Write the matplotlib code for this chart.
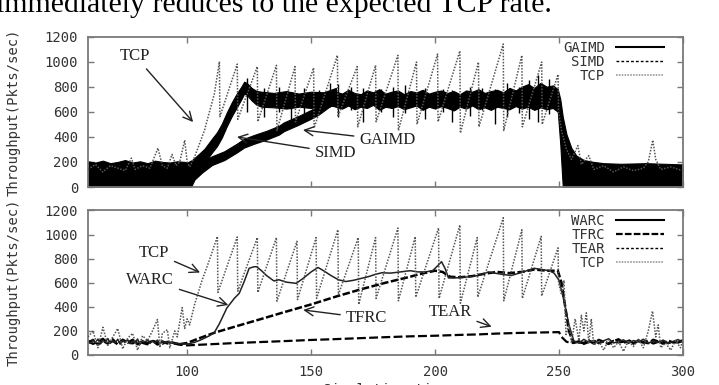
import matplotlib
matplotlib.use("Agg")
import matplotlib.pyplot as plt
from matplotlib.lines import Line2D

plt.rcParams['font.family'] = ['DejaVu Sans Mono']

# ---------------- data: top panel ----------------
band_t = [160 + 2.5 * i for i in range(36)]
gaimd_t = ([60, 63, 66, 69, 72, 75, 78, 81, 84, 87, 90, 93, 96, 99, 101.5,
            103, 106, 110, 115, 120, 123, 127, 132, 137, 139, 145, 150, 153, 158]
           + band_t
           + [249.5, 250.5, 251.5, 253, 255, 257, 260, 264, 268, 275, 285, 300])
gaimd_hi = ([205, 195, 210, 190, 200, 215, 195, 205, 190, 210, 200, 195, 205, 200, 190,
             185, 205, 245, 285, 345, 385, 415, 448, 488, 515, 567, 615, 647, 725]
            + [760, 745, 775, 750, 740, 770, 755, 780, 745, 760, 770, 740, 765, 755, 775,
               745, 760, 770, 750, 765, 740, 770, 760, 780, 750, 765, 775, 755, 790, 770,
               800, 820, 790, 830, 800, 810]
            + [780, 700, 560, 420, 310, 250, 215, 200, 190, 185, 190, 180])
gaimd_lo = ([0, 0, 0, 0, 0, 0, 0, 0, 0, 0, 0, 0, 0, 0, 0,
             60, 115, 175, 215, 275, 315, 345, 378, 418, 445, 497, 545, 577, 650]
            + [640, 625, 650, 620, 640, 630, 655, 615, 640, 630, 645, 620, 635, 650, 615,
               640, 625, 645, 630, 610, 640, 625, 650, 620, 635, 615, 640, 630, 620, 645,
               625, 640, 615, 635, 620, 630]
            + [600, 340, 0, 0, 0, 0, 0, 0, 0, 0, 0, 0])

simd_t = [100, 102, 104, 107, 110, 112, 114, 116, 118, 120, 122, 123, 124, 126, 128,
          130, 135, 140, 145, 150, 155, 160]
simd_hi = [195, 215, 250, 305, 385, 435, 505, 595, 675, 745, 805, 840, 830, 790, 765,
           760, 750, 765, 745, 760, 755, 790]
simd_lo = [105, 125, 150, 195, 275, 325, 395, 485, 565, 635, 705, 745, 735, 690, 655,
           640, 635, 625, 640, 630, 645, 650]

spike_t = [124, 131, 137, 142, 147, 153, 157.5, 161, 166, 171, 178, 183, 188, 196,
           203, 207, 214, 219, 224, 229, 234, 238, 241.5, 246]
spike_lo = [600, 560, 600, 530, 580, 600, 640, 560, 610, 520, 600, 560, 590, 540,
            600, 520, 570, 610, 500, 560, 590, 540, 520, 580]
spike_hi = [870, 790, 800, 760, 790, 770, 830, 820, 800, 790, 780, 800, 810, 790,
            780, 770, 800, 790, 780, 830, 800, 850, 890, 860]

tcp1_t = [60, 63, 66, 69, 72, 75, 77.5, 79, 82, 85, 88.2, 90, 92, 93.9, 95.5, 97, 99,
          100, 101, 103, 107, 111, 113, 113.2, 120.2, 120.4, 128.3, 128.5, 136, 136.2,
          143.5, 143.7, 151, 151.2, 160.6, 160.8, 168.6, 168.8, 176, 176.2, 185, 185.2,
          192.5, 192.7, 201, 201.2, 210, 210.2, 217.5, 217.7, 227.5, 227.7, 235, 235.2,
          243, 243.2, 249.6, 249.8, 251, 253, 255, 257.6, 259, 262, 264, 268, 272, 276,
          280, 284, 286, 287.8, 289, 291, 295, 300]
tcp1_v = [140, 180, 120, 170, 150, 130, 230, 140, 170, 150, 310, 170, 150, 260, 170, 200, 373,
          200, 160, 240, 453, 746, 1000, 560, 980, 540, 960, 520, 970, 450,
          960, 520, 950, 470, 1050, 560, 960, 480, 970, 520, 1050, 450,
          996, 500, 1060, 520, 1085, 430, 996, 480, 1140, 450, 1050, 480,
          996, 500, 898, 600, 450, 300, 220, 330, 180, 250, 140, 170, 120, 160,
          130, 150, 200, 374, 220, 140, 160, 130]

# ---------------- data: bottom panel ----------------
tcp2_t = [60, 62, 64, 66, 68, 70, 72, 74, 76, 78, 80, 82, 84, 86, 88, 89, 90, 92, 93, 95,
          96, 98, 99, 100, 101, 103, 106, 109, 112.2, 112.4, 120.2, 120.4, 128.3, 128.5,
          136, 136.2, 144.3, 144.5, 152, 152.2, 160.8, 161, 169, 169.2, 176, 176.2, 185,
          185.2, 192, 192.2, 201.4, 201.6, 210, 210.2, 217, 217.2, 227.5, 227.7, 235,
          235.2, 242.8, 243, 249.6, 249.8, 251, 252, 252.8, 254, 255, 256.5, 258, 259,
          260, 261, 262, 263, 264, 266, 268, 270, 272, 274, 276, 278, 280, 282, 284,
          286, 287.7, 289, 290, 291, 293, 295, 297, 299, 300]
tcp2_v = [150, 200, 60, 230, 80, 150, 220, 50, 140, 180, 40, 160, 120, 200, 295, 60, 180, 210, 60, 200,
          150, 394, 220, 300, 250, 420, 620, 790, 985, 520, 980, 530, 975, 520,
          975, 447, 944, 460, 975, 470, 1040, 500, 975, 420, 975, 470, 1055,
          450, 983, 480, 1055, 470, 1080, 430, 975, 480, 1140, 450, 1040,
          470, 985, 490, 890, 600, 500, 620, 170, 250, 100, 300, 120, 330,
          200, 350, 100, 300, 80, 120, 40, 130, 60, 110, 30, 120, 70, 130, 60,
          200, 365, 150, 250, 60, 100, 40, 120, 60, 130]

warc_t = list(range(60, 98)) + [
    100, 103, 106, 109, 111, 113, 116, 119, 121, 123, 125, 127, 128, 130, 132, 135, 137,
    140, 144, 147, 150, 152.8, 155, 158, 161, 164, 167, 170, 173, 176, 178.5, 182, 186,
    190, 193, 196, 199, 201, 202.6, 204, 205.4, 208, 211, 214, 217.5, 221.5, 224, 227,
    230.7, 234, 237, 240, 243, 246, 248, 250, 252, 254] + list(range(256, 301, 2))
warc_v = [112, 96, 128, 104, 133, 92, 121, 108, 137, 97, 118, 102, 131, 90, 122, 106, 127,
          94, 116, 101, 133, 89, 121, 107, 126, 96, 117, 100, 124, 91, 114, 99, 111, 94,
          104, 92, 99, 94] + [
    90, 105, 130, 160, 188, 260, 390, 470, 512, 610, 720, 733, 733, 700, 660, 615, 625,
    605, 595, 640, 690, 727, 700, 660, 625, 610, 620, 635, 650, 670, 683, 680, 690,
    700, 690, 690, 700, 740, 775, 720, 640, 640, 645, 650, 660, 690, 680, 670,
    660, 680, 700, 720, 710, 700, 680, 620, 450, 250] + [
    115, 98, 130, 105, 122, 94, 118, 135, 100, 112, 126, 96, 120, 108, 131, 99, 116,
    104, 124, 95, 113, 128, 106]

tfrc_t = list(range(60, 97, 2)) + [
    97, 100, 105, 111, 120, 130, 139, 150, 160, 170, 180, 190, 193, 200, 203, 206, 210,
    215, 220, 225, 230, 235, 240, 245, 249.5, 251, 252.5, 254, 255.5] + list(range(258, 301, 2))
tfrc_v = [100, 125, 88, 118, 95, 130, 85, 120, 102, 126, 90, 115, 98, 122, 87, 112, 96, 104, 92] + [
    90, 100, 140, 185, 240, 300, 355, 420, 485, 545, 600, 650, 668, 700, 690, 650, 645,
    655, 675, 690, 680, 690, 710, 700, 700, 600, 400, 200, 110] + [
    105, 100, 118, 96, 125, 110, 92, 115, 130, 101, 117, 95, 122, 108, 98, 126, 112,
    94, 119, 104, 110, 121]

tear_t = list(range(60, 97, 2)) + [
    97, 100, 110, 120, 130, 140, 150, 160, 170, 180, 190, 200, 210, 217.5, 225, 235,
    245, 250, 251, 253, 255] + list(range(256, 301, 2))
tear_v = [120, 92, 110, 135, 98, 115, 90, 128, 105, 96, 122, 100, 88, 117, 106, 93, 110, 97, 90] + [
    85, 80, 90, 100, 108, 116, 125, 132, 140, 148, 155, 160, 167, 171, 178, 184,
    188, 190, 150, 110, 100] + [
    100, 115, 92, 108, 121, 99, 112, 96, 118, 104, 110, 125, 97, 113, 102, 120, 95,
    109, 116, 98, 111, 103, 118]

x_ticks = [100, 150, 200, 250, 300]
y_ticks = [0, 200, 400, 600, 800, 1000, 1200]
top_labels = ['GAIMD', 'SIMD', 'TCP']
bot_labels = ['WARC', 'TFRC', 'TEAR', 'TCP']

# ---------------- styles ----------------
FS = 10
TXT = '#333333'
FRAME = '#7a7a7a'
TCP_COL = '#555555'
TCP_LS = (0, (1, 1))
SERIF = ['Liberation Serif', 'DejaVu Serif']

fig = plt.figure(figsize=(7.19, 3.85), dpi=100)
ax1 = fig.add_axes([88 / 719, 1 - 187 / 385, 595 / 719, 150.5 / 385])
ax2 = fig.add_axes([88 / 719, 1 - 355 / 385, 595 / 719, 144.5 / 385])


def style(ax, show_x):
    ax.set_xlim(60, 300)
    ax.set_ylim(0, 1200)
    ax.set_xticks(x_ticks)
    ax.set_yticks(y_ticks)
    for s in ax.spines.values():
        s.set_color(FRAME)
        s.set_linewidth(1.3)
    ax.tick_params(direction='in', length=4, width=1, color=FRAME, top=True, right=True,
                   labelsize=FS, labelcolor=TXT, pad=7, labelbottom=show_x)
    ax.set_ylabel('Throughput(Pkts/sec)', fontsize=FS, color=TXT)
    ax.yaxis.set_label_coords(-0.113, 0.5)


style(ax1, False)
style(ax2, True)

# ---- top panel ----
ax1.fill_between(gaimd_t, gaimd_lo, gaimd_hi, color='black', lw=0.8, zorder=2)
ax1.fill_between(simd_t, simd_lo, simd_hi, color='black', lw=0.8, zorder=2)
ax1.vlines(spike_t, spike_lo, spike_hi, color='black', lw=1.0, zorder=2)
ax1.plot(tcp1_t, tcp1_v, color=TCP_COL, lw=1.1, ls=TCP_LS, zorder=3)

h1 = [Line2D([], [], color='black', lw=1.5),
      Line2D([], [], color='black', lw=1.0, ls=(0, (2, 1.5))),
      Line2D([], [], color='#999999', lw=1.2, ls=(0, (1, 0.7)))]

# ---- bottom panel ----
ax2.plot(tear_t, tear_v, color='black', lw=1.6, ls=(0, (4, 1.5)), zorder=2)
ax2.plot(tfrc_t, tfrc_v, color='black', lw=1.8, ls=(0, (3, 1)), zorder=2)
ax2.plot(warc_t, warc_v, color='#222222', lw=1.1, zorder=2)
ax2.plot(tcp2_t, tcp2_v, color=TCP_COL, lw=1.1, ls=TCP_LS, zorder=3)

h2 = [Line2D([], [], color='black', lw=1.5),
      Line2D([], [], color='black', lw=1.6, ls=(0, (3, 1))),
      Line2D([], [], color='black', lw=1.0, ls=(0, (2, 1.5))),
      Line2D([], [], color='#999999', lw=1.2, ls=(0, (1, 0.7)))]

leg_kw = dict(loc='upper right', frameon=False, markerfirst=False, alignment='right',
              handlelength=3.45, handletextpad=0.8, labelspacing=0.0, borderpad=0,
              borderaxespad=0, prop={'family': 'DejaVu Sans Mono', 'size': FS})
l1 = ax1.legend(h1, top_labels, bbox_to_anchor=(0.968, 0.97), **leg_kw)
l2 = ax2.legend(h2, bot_labels, bbox_to_anchor=(0.968, 0.976), **leg_kw)
for lg in (l1, l2):
    for t in lg.get_texts():
        t.set_color(TXT)

# ---- annotations ----
arrow = dict(arrowstyle='->', lw=1.0, color='#222222', mutation_scale=16, shrinkA=2, shrinkB=0)
ann_kw = dict(textcoords='data', ha='center', va='center', fontsize=12,
              family=SERIF, color='#222222', arrowprops=arrow)
ax1.annotate('TCP', xy=(102.4, 518), xytext=(79.0, 1044), **ann_kw)
ax1.annotate('SIMD', xy=(120.1, 399), xytext=(159.8, 275), **ann_kw)
ax1.annotate('GAIMD', xy=(146.7, 454), xytext=(180.8, 375), **ann_kw)
ax2.annotate('TCP', xy=(105.2, 685), xytext=(86.6, 851), **ann_kw)
ax2.annotate('WARC', xy=(116.6, 415), xytext=(85.0, 623), **ann_kw)
ax2.annotate('TFRC', xy=(146.8, 374), xytext=(172.3, 307), **ann_kw)
ax2.annotate('TEAR', xy=(222.8, 235), xytext=(206.0, 361), **ann_kw)

# ---- surrounding page text (cut off in the screenshot) ----
fig.text(-4 / 719, 1 - 12.5 / 385, 'immediately reduces to the expected TCP rate.',
         family=SERIF, fontsize=21.5, color='black', ha='left', va='baseline')
fig.text(385.5 / 719, 1 - 383 / 385, 'Simulation time', fontsize=FS, color=TXT,
         ha='center', va='top')

fig.savefig('out.png', dpi=100)
